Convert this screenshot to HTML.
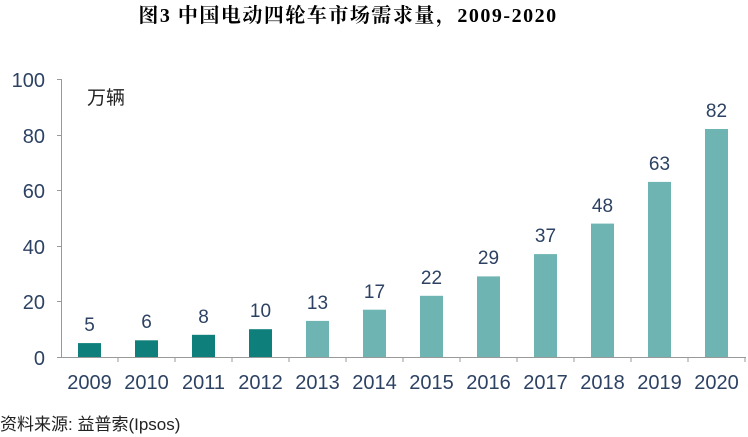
<!DOCTYPE html><html><head><meta charset="utf-8"><style>body{margin:0;background:#fff}svg{display:block}</style></head><body>
<svg width="748" height="437" xmlns="http://www.w3.org/2000/svg" font-family="Liberation Sans, Noto Sans CJK SC, sans-serif">
<text x="348" y="22" text-anchor="middle" font-size="20" letter-spacing="1.5" font-weight="bold" font-family="Liberation Serif, Noto Serif CJK SC, serif">图3 中国电动四轮车市场需求量，2009-2020</text>
<g stroke="#999" stroke-width="1">
<line x1="61.5" y1="79" x2="61.5" y2="357"/>
<line x1="57" y1="79.5" x2="61" y2="79.5"/><line x1="57" y1="135.5" x2="61" y2="135.5"/><line x1="57" y1="190.5" x2="61" y2="190.5"/><line x1="57" y1="246.5" x2="61" y2="246.5"/><line x1="57" y1="301.5" x2="61" y2="301.5"/><line x1="57" y1="357.5" x2="61" y2="357.5"/>
<line x1="61" y1="357.5" x2="746" y2="357.5"/>
<line x1="118" y1="357" x2="118" y2="362"/><line x1="175" y1="357" x2="175" y2="362"/><line x1="232" y1="357" x2="232" y2="362"/><line x1="289" y1="357" x2="289" y2="362"/><line x1="346" y1="357" x2="346" y2="362"/><line x1="403" y1="357" x2="403" y2="362"/><line x1="460" y1="357" x2="460" y2="362"/><line x1="517" y1="357" x2="517" y2="362"/><line x1="574" y1="357" x2="574" y2="362"/><line x1="631" y1="357" x2="631" y2="362"/><line x1="688" y1="357" x2="688" y2="362"/><line x1="745" y1="357" x2="745" y2="362"/>
</g>
<g font-size="20" fill="#2d4263" text-anchor="end">
<text x="45" y="87">100</text><text x="45" y="143">80</text><text x="45" y="198">60</text><text x="45" y="254">40</text><text x="45" y="309">20</text><text x="45" y="365">0</text>
</g>
<text x="87" y="104" font-size="19" fill="#222">万辆</text>
<g fill="#0f7f7b">
<rect x="78" y="343.1" width="23" height="13.9"/>
<rect x="135" y="340.3" width="23" height="16.7"/>
<rect x="192" y="334.8" width="23" height="22.2"/>
<rect x="249" y="329.2" width="23" height="27.8"/>
</g>
<g fill="#6eb4b2">
<rect x="306" y="320.9" width="23" height="36.1"/>
<rect x="363" y="309.7" width="23" height="47.3"/>
<rect x="420" y="295.8" width="23" height="61.2"/>
<rect x="477" y="276.4" width="23" height="80.6"/>
<rect x="534" y="254.1" width="23" height="102.9"/>
<rect x="591" y="223.6" width="23" height="133.4"/>
<rect x="648" y="181.9" width="23" height="175.1"/>
<rect x="705" y="129" width="23" height="228"/>
</g>
<g font-size="19" fill="#2d4263" text-anchor="middle">
<text x="89.5" y="331">5</text><text x="146.5" y="328">6</text><text x="203.5" y="323">8</text><text x="260.5" y="317">10</text><text x="317.5" y="309">13</text><text x="374.5" y="298">17</text><text x="431.5" y="284">22</text><text x="488.5" y="264">29</text><text x="545.5" y="242">37</text><text x="602.5" y="212">48</text><text x="659.5" y="170">63</text><text x="716.5" y="117">82</text>
</g>
<g font-size="20" fill="#2d4263" text-anchor="middle">
<text x="89.5" y="389">2009</text><text x="146.5" y="389">2010</text><text x="203.5" y="389">2011</text><text x="260.5" y="389">2012</text><text x="317.5" y="389">2013</text><text x="374.5" y="389">2014</text><text x="431.5" y="389">2015</text><text x="488.5" y="389">2016</text><text x="545.5" y="389">2017</text><text x="602.5" y="389">2018</text><text x="659.5" y="389">2019</text><text x="716.5" y="389">2020</text>
</g>
<text x="0" y="430" font-size="17" fill="#222">资料来源: 益普索(Ipsos)</text>
</svg></body></html>
